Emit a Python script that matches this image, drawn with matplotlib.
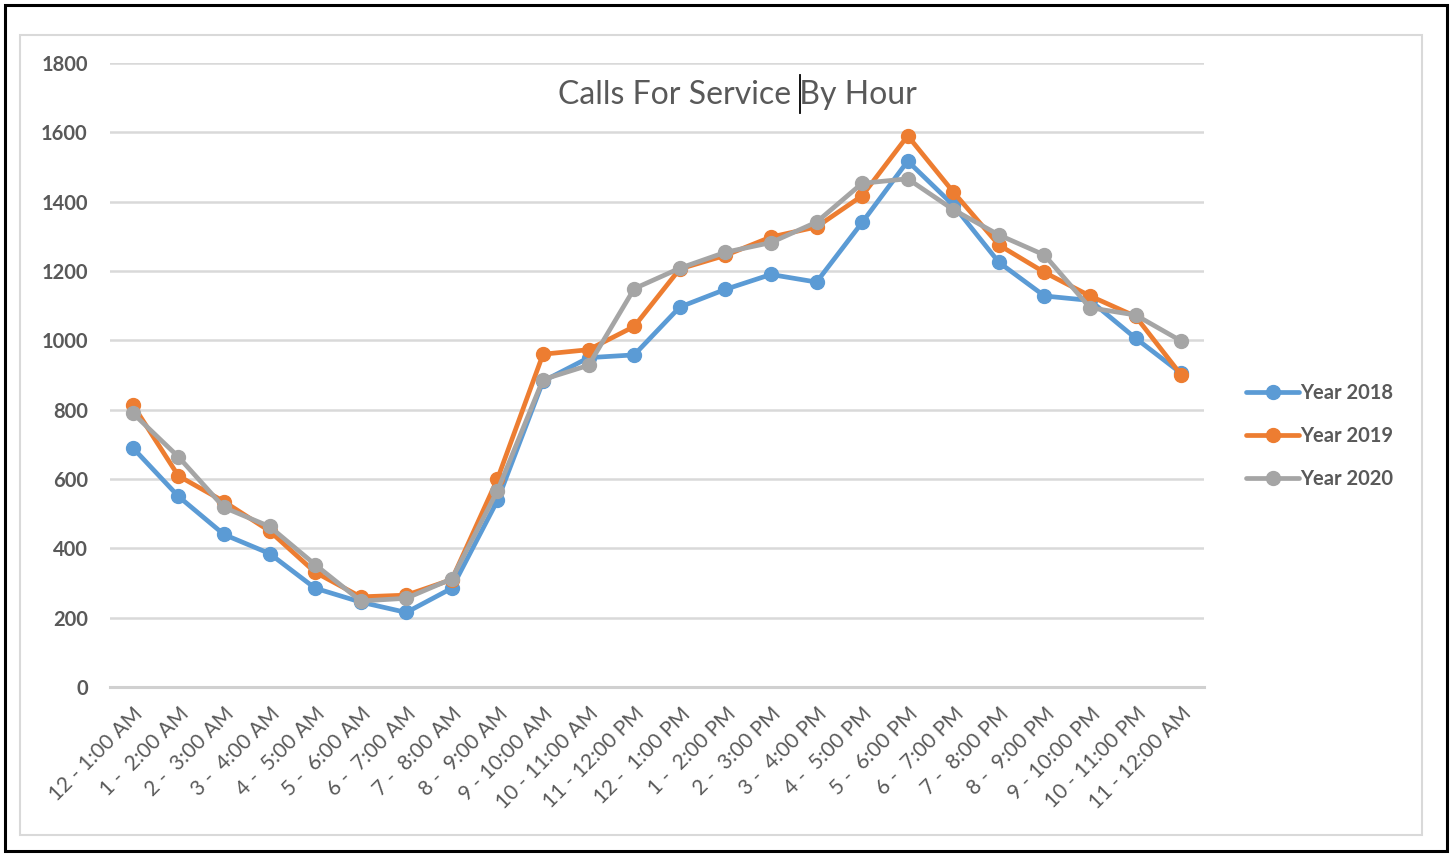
import matplotlib
matplotlib.use("Agg")
import matplotlib.pyplot as plt
from matplotlib.patches import Rectangle
from matplotlib.lines import Line2D

hours = ["12 - 1:00 AM", "1 -  2:00 AM", "2 -  3:00 AM", "3 -  4:00 AM", "4 -  5:00 AM",
         "5 -  6:00 AM", "6 -  7:00 AM", "7 -  8:00 AM", "8 -  9:00 AM", "9 - 10:00 AM",
         "10 - 11:00 AM", "11 - 12:00 PM", "12 -  1:00 PM", "1 -  2:00 PM", "2 -  3:00 PM",
         "3 -  4:00 PM", "4 -  5:00 PM", "5 -  6:00 PM", "6 -  7:00 PM", "7 -  8:00 PM",
         "8 -  9:00 PM", "9 - 10:00 PM", "10 - 11:00 PM", "11 - 12:00 AM"]

year_2018 = [690, 550, 440, 385, 285, 245, 215, 285, 538, 882, 950, 958, 1096, 1147, 1190, 1168,
             1340, 1517, 1390, 1225, 1128, 1115, 1006, 905]
year_2019 = [814, 609, 535, 450, 331, 260, 265, 310, 600, 960, 973, 1040, 1206, 1245, 1298, 1327,
             1417, 1590, 1428, 1275, 1196, 1128, 1069, 900]
year_2020 = [790, 664, 518, 463, 353, 248, 256, 312, 566, 887, 928, 1149, 1208, 1254, 1282, 1341,
             1453, 1466, 1377, 1304, 1246, 1094, 1073, 998]

series = [("Year 2018", year_2018, "#5B9BD5"),
          ("Year 2019", year_2019, "#ED7D31"),
          ("Year 2020", year_2020, "#A5A5A5")]

title = "Calls For Service By Hour"
yticks = [0, 200, 400, 600, 800, 1000, 1200, 1400, 1600, 1800]

FONT = ["Lato", "DejaVu Sans"]
TXT = "#595959"

W, H = 1452, 856
fig = plt.figure(figsize=(W / 100, H / 100), dpi=100)
fig.patch.set_facecolor("white")

# outer black border and inner chart border
fig.add_artist(Rectangle((5 / W, 5 / H), 1442 / W, 846 / H, transform=fig.transFigure,
                         fill=False, edgecolor="black", linewidth=2.2))
fig.add_artist(Rectangle((20 / W, (H - 835) / H), 1402 / W, 800 / H, transform=fig.transFigure,
                         fill=False, edgecolor="#D9D9D9", linewidth=1.5))

left, right, top, bottom = 110, 1204, 63, 687
ax = fig.add_axes([left / W, (H - bottom) / H, (right - left) / W, (bottom - top) / H])

x = list(range(len(hours)))
for name, vals, col in series:
    ax.plot(x, vals, color=col, linewidth=3.4, marker="o", markersize=10, label=name,
            solid_capstyle="round", solid_joinstyle="round")

ax.set_xlim(-0.5, len(hours) - 0.5)
ax.set_ylim(0, 1800)
ax.set_yticks(yticks)
ax.set_yticklabels([str(v) for v in yticks], fontsize=14.5, color=TXT, family=FONT,
                   fontweight="bold")
ax.set_xticks(x)
ax.set_xticklabels(hours, rotation=45, ha="right", rotation_mode="anchor", fontsize=15,
                   color=TXT, family=FONT)
ax.tick_params(axis="both", length=0)
ax.tick_params(axis="y", pad=16)
ax.tick_params(axis="x", pad=12)
ax.grid(axis="y", color="#D9D9D9", linewidth=1.8)
ax.set_axisbelow(True)
for s in ["top", "right", "left"]:
    ax.spines[s].set_visible(False)
ax.spines["bottom"].set_color("#D0D0D0")
ax.spines["bottom"].set_linewidth(2.2)

fig.text(737 / W, (H - 95) / H, title, fontsize=23, color=TXT, family=FONT,
         ha="center", va="center")

# text cursor in the title
fig.add_artist(Line2D([800 / W, 800 / W], [(H - 75) / H, (H - 113) / H],
                      transform=fig.transFigure, color="black", linewidth=1.3))

leg = fig.legend(loc="center left", bbox_to_anchor=(1236 / W, (H - 436) / H), frameon=False,
                 prop={"family": FONT, "size": 14.5, "weight": "bold"}, handlelength=2.65,
                 handletextpad=0.05, labelspacing=1.15, labelcolor=TXT, borderpad=0)

fig.savefig("out.png", dpi=100)
